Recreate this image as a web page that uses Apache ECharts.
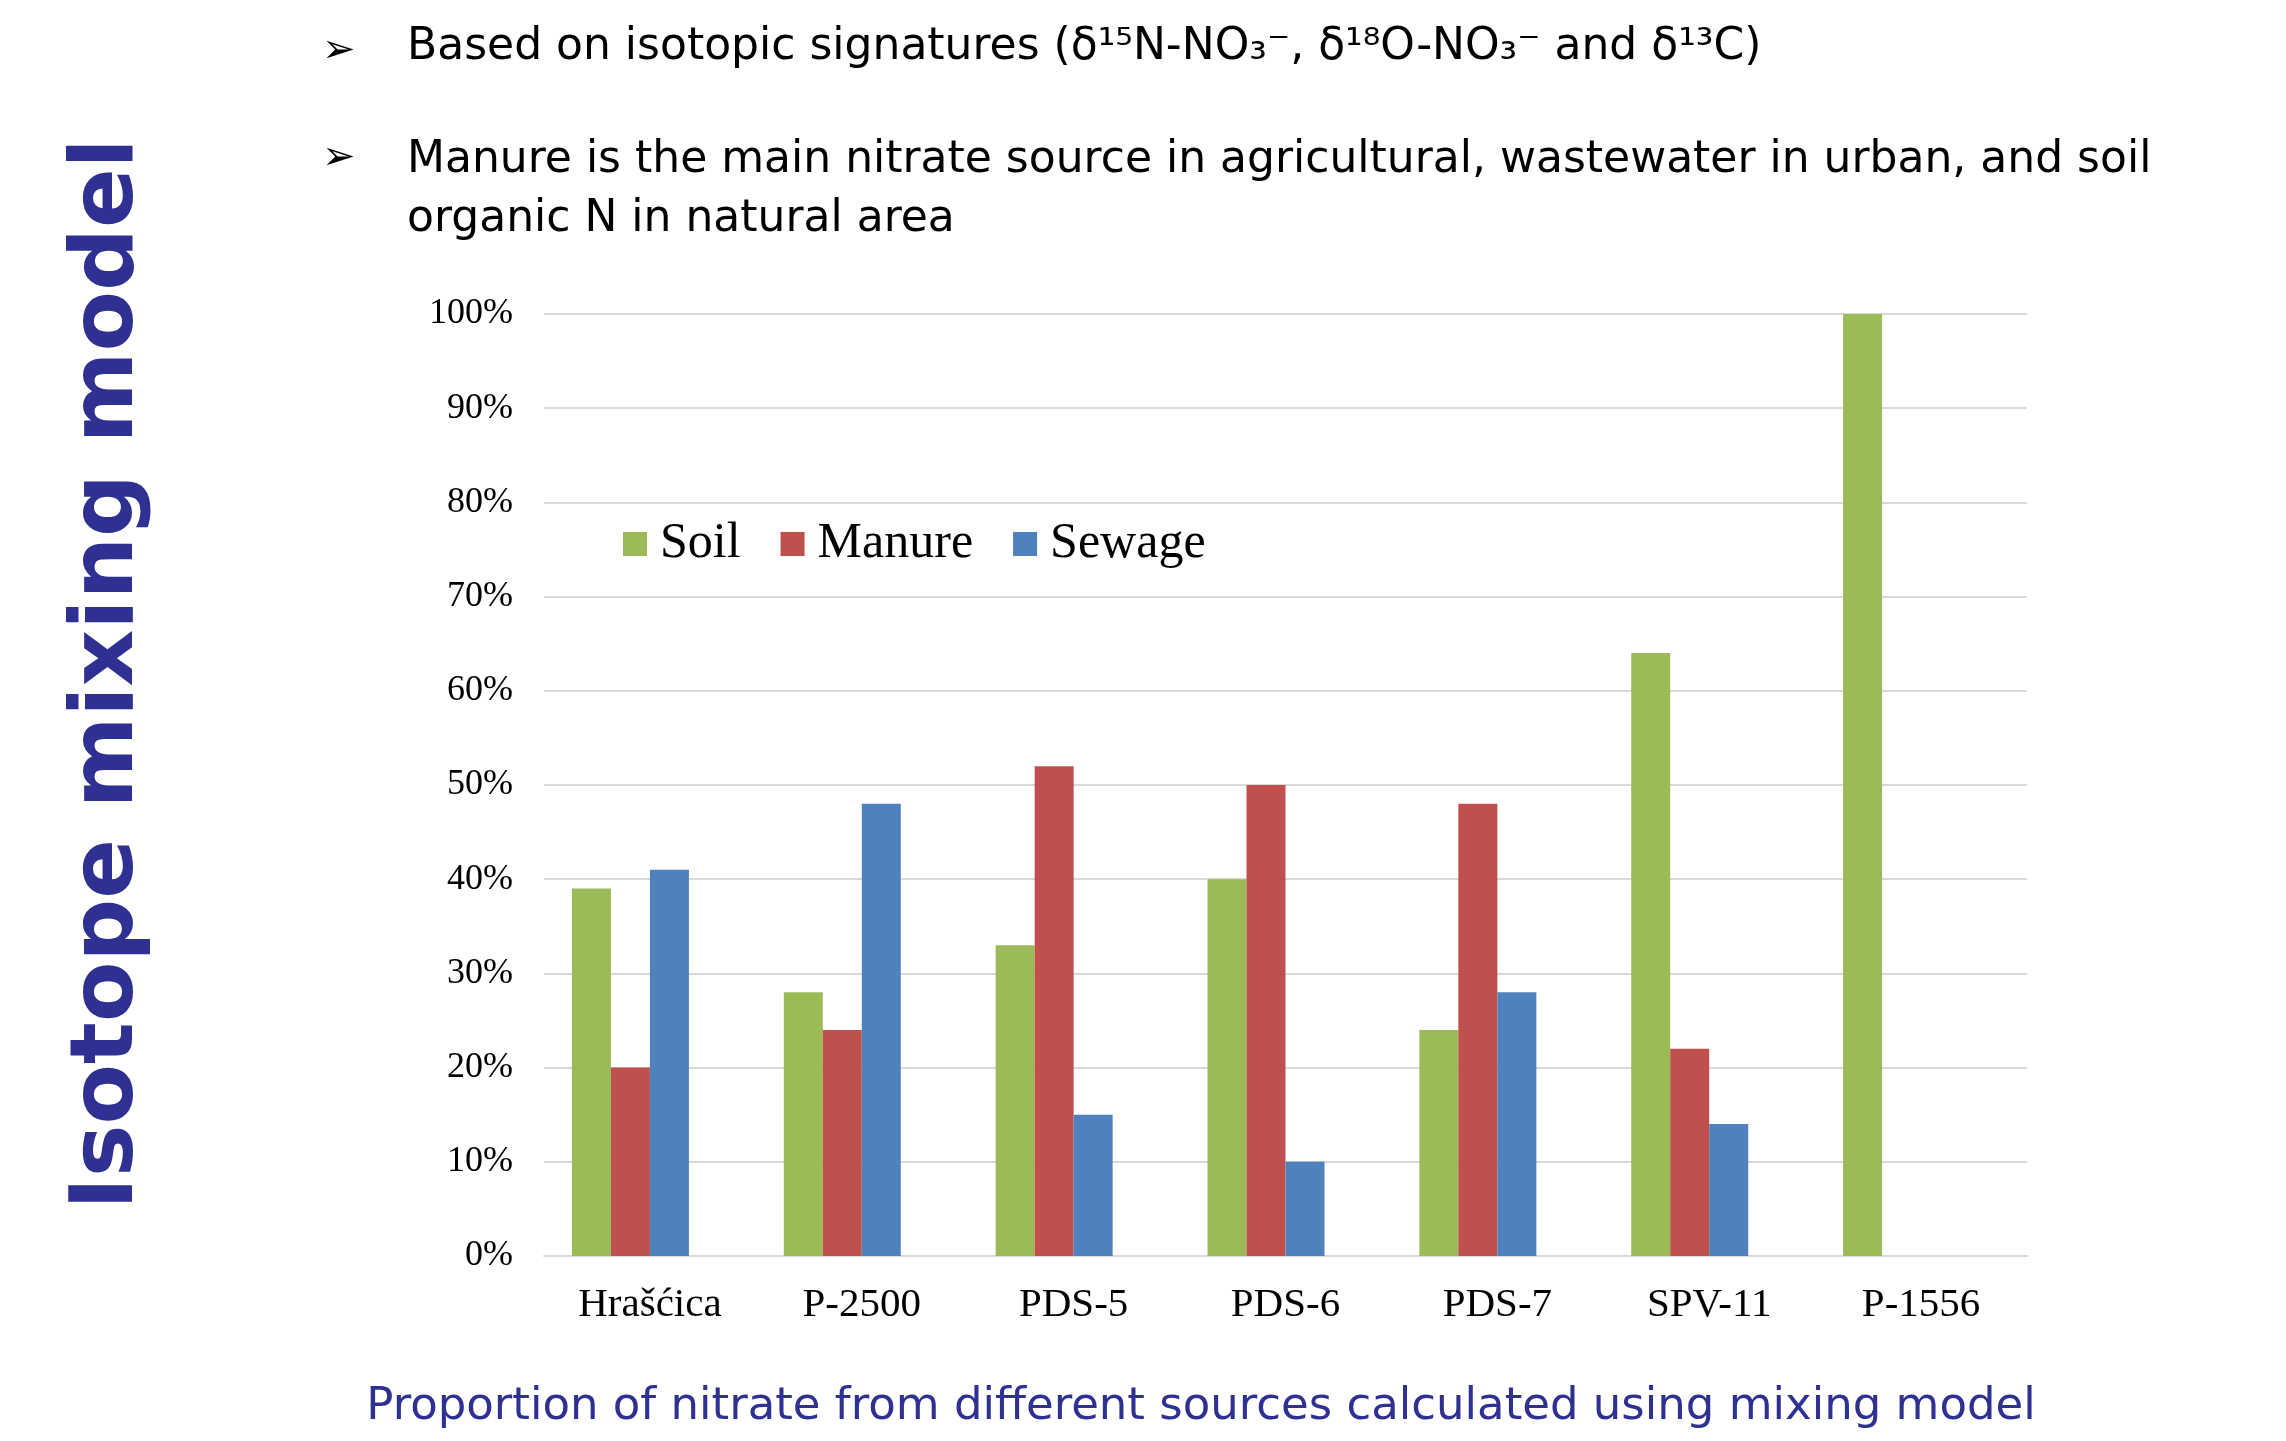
<!DOCTYPE html>
<html>
<head>
<meta charset="utf-8">
<script src="https://cdn.jsdelivr.net/npm/echarts@6/dist/echarts.min.js"></script>
<style>
  html, body { margin: 0; padding: 0; background: #fff; }
  #main { width: 2286px; height: 1441px; }
</style>
</head>
<body>
<div id="main"></div>
<script>
// data
const sites = ['Hrašćica', 'P-2500', 'PDS-5', 'PDS-6', 'PDS-7', 'SPV-11', 'P-1556']
const soil = [39, 28, 33, 40, 24, 64, 100]
const manure = [20, 24, 52, 50, 48, 22, 0]
const sewage = [41, 48, 15, 10, 28, 14, 0]
// the original chart keeps room for a fourth, empty series in each group
const spare = []

const comic = '"Comic Sans MS", "DejaVu Sans", sans-serif'
const serif = '"Liberation Serif", "Times New Roman", serif'
const navy = '#2E3192'

const myChart = echarts.init(document.getElementById('main'))

const barSeries = (name, data, color) => ({
  name: name,
  type: 'bar',
  data: data,
  barWidth: 39,
  barGap: '0%',
  itemStyle: {color: color},
  emphasis: {disabled: true}
})

const option = {
  animation: false,
  grid: {left: 544, right: 259, top: 314, bottom: 185},
  legend: {
    left: 618,
    top: 514,
    itemWidth: 24,
    itemHeight: 24,
    itemGap: 40,
    icon: 'rect',
    textStyle: {fontFamily: serif, fontSize: 50, color: '#000', padding: [0, 0, 0, 8]},
    data: ['Soil', 'Manure', 'Sewage']
  },
  xAxis: {
    type: 'category',
    data: sites,
    axisTick: {show: false},
    axisLine: {lineStyle: {color: '#D9D9D9', width: 2}},
    axisLabel: {fontFamily: serif, fontSize: 41, color: '#000', margin: 29}
  },
  yAxis: {
    type: 'value',
    min: 0,
    max: 100,
    interval: 10,
    axisLine: {show: false},
    axisTick: {show: false},
    splitLine: {lineStyle: {color: '#D9D9D9', width: 2}},
    axisLabel: {fontFamily: serif, fontSize: 36, color: '#000', margin: 31, formatter: '{value}%'}
  },
  series: [
    barSeries('Soil', soil, '#9BBB59'),
    barSeries('Manure', manure, '#C0504D'),
    barSeries('Sewage', sewage, '#4F81BD'),
    barSeries('spare', spare, 'transparent')
  ],
  graphic: [
    {type: 'text', left: 322, top: 32, style: {text: '➢', font: '40px "DejaVu Sans"', fill: '#000'}},
    {type: 'text', left: 407, top: 26, style: {
      text: 'Based on isotopic signatures (δ¹⁵N-NO₃⁻, δ¹⁸O-NO₃⁻ and δ¹³C)',
      fontFamily: comic, fontSize: 44, fill: '#000'}},
    {type: 'text', left: 322, top: 139, style: {text: '➢', font: '40px "DejaVu Sans"', fill: '#000'}},
    {type: 'text', left: 407, top: 131, style: {
      text: 'Manure is the main nitrate source in agricultural, wastewater in urban, and soil\norganic N in natural area',
      fontFamily: comic, fontSize: 44, lineHeight: 59, fill: '#000'}},
    {type: 'text', x: 109, y: 674, rotation: Math.PI / 2, style: {
      text: 'Isotope mixing model', fontFamily: comic, fontWeight: 'bold', fontSize: 88,
      fill: navy, align: 'center', verticalAlign: 'middle'}},
    {type: 'text', x: 1201, y: 1407, style: {
      text: 'Proportion of nitrate from different sources calculated using mixing model',
      fontFamily: comic, fontSize: 45, fill: navy, align: 'center', verticalAlign: 'middle'}}
  ]
}
option && myChart.setOption(option)
</script>
</body>
</html>
